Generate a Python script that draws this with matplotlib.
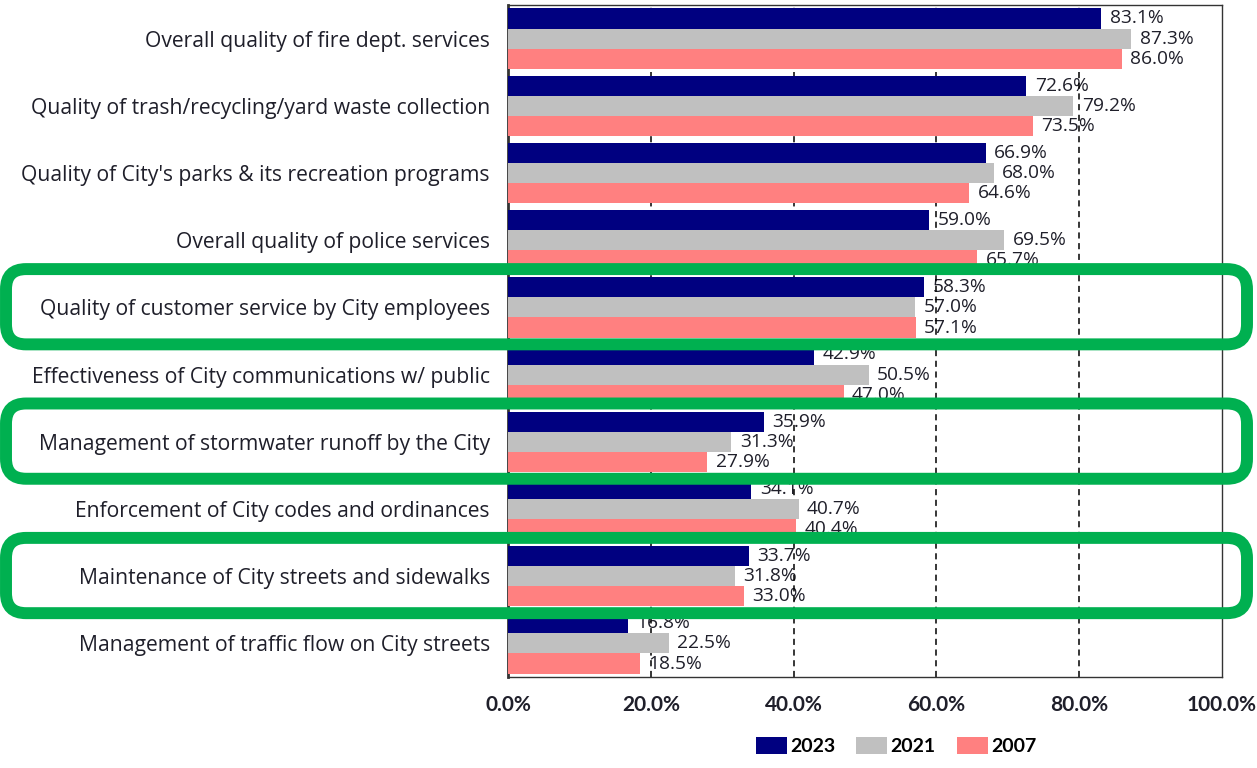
import numpy as np
import matplotlib
matplotlib.use('Agg')
import matplotlib.pyplot as plt
from matplotlib.patches import FancyBboxPatch
from matplotlib.transforms import IdentityTransform

plt.rcParams['font.family'] = ['Open Sans', 'DejaVu Sans']

services = ['Overall quality of fire dept. services',
            'Quality of trash/recycling/yard waste collection',
            "Quality of City's parks & its recreation programs",
            'Overall quality of police services',
            'Quality of customer service by City employees',
            'Effectiveness of City communications w/ public',
            'Management of stormwater runoff by the City',
            'Enforcement of City codes and ordinances',
            'Maintenance of City streets and sidewalks',
            'Management of traffic flow on City streets']
pct_2023 = [83.1, 72.6, 66.9, 59.0, 58.3, 42.9, 35.9, 34.1, 33.7, 16.8]
pct_2021 = [87.3, 79.2, 68.0, 69.5, 57.0, 50.5, 31.3, 40.7, 31.8, 22.5]
pct_2007 = [86.0, 73.5, 64.6, 65.7, 57.1, 47.0, 27.9, 40.4, 33.0, 18.5]
years = ['2023', '2021', '2007']
highlighted = [4, 6, 8]

colors = ['#000080', '#C0C0C0', '#FF8080']
txt = '#1f1f2a'

W, H = 1257, 768
fig = plt.figure(figsize=(W / 100, H / 100), dpi=100)
ax = fig.add_axes([508 / W, 1 - 677 / H, (1222 - 508) / W, (677 - 5) / H])

y = np.arange(len(services))
h = 0.3
for k, (vals, yr, c) in enumerate(zip([pct_2023, pct_2021, pct_2007], years, colors)):
    pos = y - h + k * h
    ax.barh(pos, vals, height=h, color=c, label=yr, zorder=3)
    for p, v in zip(pos, vals):
        ax.annotate('%.1f%%' % v, (v, p), xytext=(6, 0), textcoords='offset points',
                    va='center', ha='left', fontsize=13.8, color=txt, zorder=1)

ax.set_ylim(len(services) - 0.5, -0.5)
ax.set_xlim(0, 100)
ax.set_yticks(y)
ax.set_yticklabels(services, fontsize=15.2, color=txt)
ax.set_xticks(np.arange(0, 101, 20))
ax.set_xticklabels(['%.1f%%' % t for t in range(0, 101, 20)],
                   fontsize=15, fontweight='bold', color=txt, family=['Lato', 'DejaVu Sans'])
ax.tick_params(length=0)
ax.tick_params(axis='x', pad=13)
ax.tick_params(axis='y', pad=13)
for t in [20, 40, 60, 80]:
    ax.axvline(t, color='black', ls=(0, (4, 3)), lw=1.1, zorder=2)
for s in ax.spines.values():
    s.set_color('#333333')
    s.set_linewidth(1.0)
ax.spines['left'].set_linewidth(2.0)

ax.legend(loc='center', bbox_to_anchor=(896 / W, 1 - 746 / H), bbox_transform=fig.transFigure,
          ncol=3, frameon=False, handlelength=1.6, handleheight=1.0,
          handletextpad=0.15, columnspacing=1.1,
          prop={'weight': 'bold', 'size': 14, 'family': ['Lato', 'DejaVu Sans']})

# green call-out boxes around selected services (pixel coordinates)
for i in highlighted:
    top = ax.transData.transform((0, i - 0.57))[1]
    bot = ax.transData.transform((0, i + 0.55))[1]
    box = FancyBboxPatch((6 + 20, bot + 20), (1247 - 6) - 40, (top - bot) - 40,
                         boxstyle='round,pad=20,rounding_size=20',
                         transform=IdentityTransform(), fill=False,
                         edgecolor='#00B050', linewidth=8.6, zorder=10)
    fig.patches.append(box)

fig.savefig('out.png', dpi=100)
